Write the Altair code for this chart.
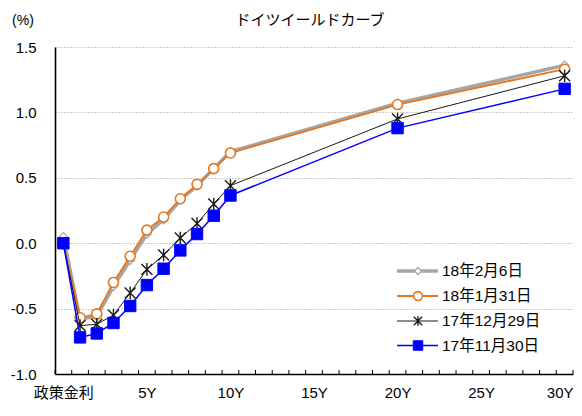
import altair as alt
import pandas as pd

# ---- data ----
tenors = [0, 1, 2, 3, 4, 5, 6, 7, 8, 9, 10, 20, 30]
series_names = ["18年2月6日", "18年1月31日", "17年12月29日", "17年11月30日"]
y_feb06 = [0.05, -0.58, -0.56, -0.33, -0.13, 0.07, 0.18, 0.33, 0.44, 0.57, 0.70, 1.07, 1.36]
y_jan31 = [0.00, -0.57, -0.54, -0.30, -0.10, 0.10, 0.20, 0.34, 0.45, 0.57, 0.69, 1.06, 1.33]
y_dec29 = [0.00, -0.63, -0.62, -0.55, -0.38, -0.20, -0.09, 0.04, 0.15, 0.30, 0.44, 0.95, 1.28]
y_nov30 = [0.00, -0.72, -0.69, -0.61, -0.48, -0.32, -0.195, -0.055, 0.07, 0.21, 0.365, 0.88, 1.18]
all_values = [y_feb06, y_jan31, y_dec29, y_nov30]
title_text = "ドイツイールドカーブ"
unit_text = "(%)"
# category boundaries of the x axis (one category per year, 0 = policy rate)
n_categories = 31

FONT = "Liberation Sans, Noto Sans CJK JP"
JFONT = "Noto Sans CJK JP"

ASTER = "M-1,-1L1,1M-1,1L1,-1M0,-1.15L0,1.15"
styles = [
    dict(color="#A6A6A6", lw=3.5, shape="diamond", fill="white", size=70, sw=1.2, lsize=50),
    dict(color="#E8761E", lw=1.8, shape="circle", fill="white", size=100, sw=1.6, lsize=78),
    dict(color="#1A1A1A", lw=1.0, shape=ASTER, fill=None, size=120, sw=1.4, lsize=70),
    dict(color="#0000FF", lw=1.5, shape="square", fill="#0000FF", size=130, sw=1, lsize=90),
]

W, H = 518, 327
PAD_TOP = 39

xscale = alt.Scale(domain=[-0.5, n_categories - 0.5], nice=False, zero=False)
yscale = alt.Scale(domain=[-1.0, 1.5], nice=False, zero=False)

xaxis = alt.Axis(
    title=None,
    values=[0, 5, 10, 15, 20, 25, 30],
    labelExpr="datum.value == 0 ? '政策金利' : datum.value + 'Y'",
    labelOffset={"condition": {"test": "datum.value == 30", "value": -5}, "value": 0},
    ticks=False,
    labelOverlap=False,
    labelFlush=False,
    labelBound=False,
    labelPadding=11,
    labelFont=FONT,
    labelFontSize=15,
    labelColor="black",
    domainColor="black",
    domainWidth=1.6,
    grid=False,
)
yaxis = alt.Axis(
    title=None,
    values=[-1.0, -0.5, 0.0, 0.5, 1.0, 1.5],
    labelExpr="(datum.value < 0 ? '-' : '') + format(abs(datum.value), '.1f')",
    ticks=False,
    labelPadding=19,
    labelFont=FONT,
    labelFontSize=15,
    labelColor="black",
    domainColor="black",
    domainWidth=1.6,
    grid=True,
    gridDash=[1, 2],
    gridColor="#9A9A9A",
    gridWidth=1,
)

layers = []
for name, vals, st in zip(series_names, all_values, styles):
    df = pd.DataFrame({"tenor": tenors, "yield": vals, "series": name})
    base = alt.Chart(df).encode(
        x=alt.X("tenor:Q", scale=xscale, axis=xaxis),
        y=alt.Y("yield:Q", scale=yscale, axis=yaxis),
    )
    layers.append(base.mark_line(color=st["color"], strokeWidth=st["lw"]))
    pkw = dict(shape=st["shape"], size=st["size"], stroke=st["color"],
               strokeWidth=st["sw"], opacity=1)
    if st["fill"] is None:
        pkw["filled"] = False
    else:
        pkw["filled"] = True
        pkw["fill"] = st["fill"]
    layers.append(base.mark_point(**pkw))

# inside tick marks at category boundaries
tick_df = pd.DataFrame({"b": [k - 0.5 for k in range(n_categories + 1)]})
layers.append(alt.Chart(tick_df).mark_rule(color="black", strokeWidth=1).encode(
    x=alt.X("b:Q", scale=xscale, axis=xaxis),
    y=alt.value(H - 4), y2=alt.value(H)))

# ---- custom legend ----
row_y = [224, 249, 274, 298.5]
for i, (name, st) in enumerate(zip(series_names, styles)):
    ld = pd.DataFrame({"label": [name]})
    lb = alt.Chart(ld)
    layers.append(lb.mark_rule(color=st["color"], strokeWidth=st["lw"]).encode(
        x=alt.value(342), x2=alt.value(383), y=alt.value(row_y[i])))
    pkw = dict(shape=st["shape"], size=st["lsize"], stroke=st["color"],
               strokeWidth=st["sw"], opacity=1)
    if st["fill"] is None:
        pkw["filled"] = False
    else:
        pkw["filled"] = True
        pkw["fill"] = st["fill"]
    layers.append(lb.mark_point(**pkw).encode(x=alt.value(363), y=alt.value(row_y[i])))
    layers.append(lb.mark_text(align="left", baseline="middle", font=FONT,
                               fontSize=15.5, color="black").encode(
        text="label:N", x=alt.value(387), y=alt.value(row_y[i])))

# ---- titles ----
layers.append(alt.Chart(pd.DataFrame({"t": [title_text]})).mark_text(
    align="center", baseline="middle", font=JFONT, fontSize=15, color="black").encode(
    text="t:N", x=alt.value(255), y=alt.value(-27)))
layers.append(alt.Chart(pd.DataFrame({"t": [unit_text]})).mark_text(
    align="center", baseline="middle", font=FONT, fontSize=14, color="black").encode(
    text="t:N", x=alt.value(-32), y=alt.value(-26)))

chart = alt.layer(*layers).properties(
    width=W, height=H,
    autosize=alt.AutoSizeParams(type="none"),
    padding={"left": 47, "top": PAD_TOP, "right": 1, "bottom": 28},
).configure_view(stroke=None)

chart.save("out.html", embed_options={"renderer": "svg", "actions": False})
